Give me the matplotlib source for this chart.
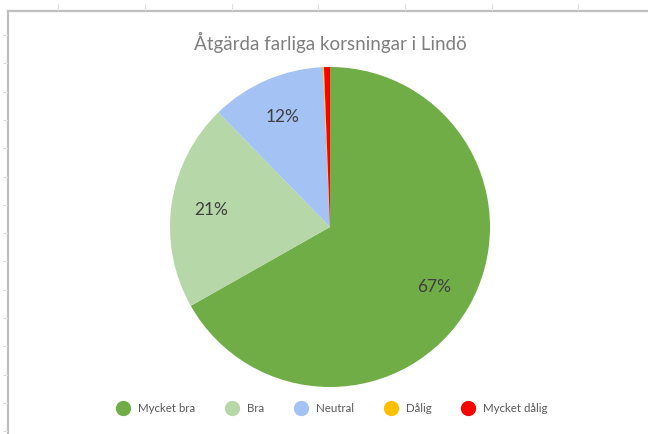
import matplotlib.pyplot as plt
from matplotlib.lines import Line2D

plt.rcParams["font.family"] = ["Lato", "DejaVu Sans"]

categories = ["Mycket bra", "Bra", "Neutral", "Dålig", "Mycket dålig"]
shares = [66.8, 20.9, 11.6, 0.1, 0.6]
colors = ["#70ad47", "#b6d7a8", "#a4c2f4", "#ffc000", "#ff0000"]
title = "Åtgärda farliga korsningar i Lindö"

W, H = 648, 434
fig = plt.figure(figsize=(W / 100, H / 100), dpi=100)
fig.patch.set_facecolor("white")

# frame lines like the spreadsheet border, with small grid ticks
grey = "#bfbfbf"
fig.add_artist(Line2D([8 / W, 8 / W], [0, 1 - 11 / H], color=grey, lw=1.6))
fig.add_artist(Line2D([8 / W, 1], [1 - 11 / H, 1 - 11 / H], color=grey, lw=1.6))
for x in [58, 145, 232, 318, 405, 492, 578]:
    fig.add_artist(Line2D([x / W, x / W], [1 - 4 / H, 1 - 10 / H], color="#e0e0e0", lw=0.8))
for i in range(15):
    y = 35 + i * 28.3
    if y > H:
        break
    fig.add_artist(Line2D([3 / W, 7 / W], [1 - y / H, 1 - y / H], color="#e0e0e0", lw=0.8))

ax = fig.add_axes([170 / W, 47 / H, 320 / W, 320 / H])
wedges, texts, autotexts = ax.pie(
    shares,
    colors=colors,
    startangle=90,
    counterclock=False,
    autopct=lambda p: f"{p:.0f}%" if p >= 5 else "",
    pctdistance=0.75,
    radius=1,
    wedgeprops=dict(linewidth=0),
    textprops=dict(color="#404040", fontsize=12.5),
)
ax.set_xlim(-1, 1)
ax.set_ylim(-1, 1)
ax.set_aspect("equal")
ax.axis("off")

fig.text(330 / W, 1 - 42 / H, title, ha="center", va="center",
         fontsize=13.5, color="#7f7f7f")

handles = [
    Line2D([], [], marker="o", linestyle="none", markersize=10,
           markerfacecolor=c, markeredgecolor=c)
    for c in colors
]
fig.legend(handles, categories, loc="center", ncol=5,
           bbox_to_anchor=(332 / W, 1 - 409 / H), frameon=False,
           fontsize=8.3, labelcolor="#595959", handletextpad=0.7,
           columnspacing=2.6, handlelength=1.2)

fig.savefig("out.png", dpi=100, facecolor="white")
